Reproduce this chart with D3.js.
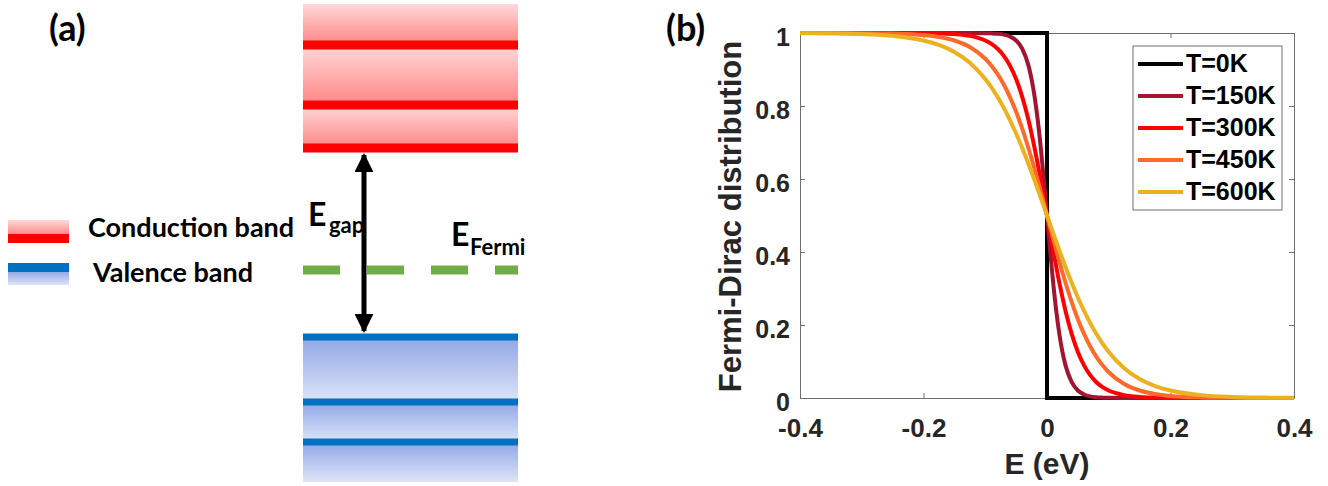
<!DOCTYPE html>
<html>
<head>
<meta charset="utf-8">
<script src="https://cdn.jsdelivr.net/npm/d3@7"></script>
<style>
  body { margin: 0; background: #fff; }
  svg { display: block; }
</style>
</head>
<body>
<svg id="fig" width="1328" height="486"></svg>
<script>
// ---------- Panel (a): band diagram (energies relative to the Fermi level, arb. units) ----------
const conductionLevels = [122, 165, 225];
const conductionTop = 266;
const valenceLevels = [-67, -132, -172];
const valenceBottom = -212;
const fermiLevel = 0;

// ---------- Panel (b): Fermi-Dirac occupation ----------
const energy = [-0.4, -0.35, -0.3, -0.25, -0.2, -0.175, -0.15, -0.125, -0.1, -0.09, -0.08, -0.07, -0.06, -0.05, -0.04, -0.03, -0.025, -0.02, -0.015, -0.01, -0.005,
  0,
  0.005, 0.01, 0.015, 0.02, 0.025, 0.03, 0.04, 0.05, 0.06, 0.07, 0.08, 0.09, 0.1, 0.125, 0.15, 0.175, 0.2, 0.25, 0.3, 0.35, 0.4];

const f150 = [1, 1, 1, 1, 1, 1, 1, 0.9999, 0.9996, 0.9990, 0.9979, 0.9956, 0.9904, 0.9795, 0.9567, 0.9106, 0.8737, 0.8245, 0.7614, 0.6843, 0.5955,
  0.5,
  0.4045, 0.3157, 0.2386, 0.1755, 0.1263, 0.0894, 0.0433, 0.0205, 0.0096, 0.0044, 0.0021, 0.0010, 0.0004, 0.0001, 0, 0, 0, 0, 0, 0, 0];

const f300 = [1, 1, 1, 0.9999, 0.9996, 0.9988, 0.9970, 0.9921, 0.9795, 0.9701, 0.9567, 0.9375, 0.9106, 0.8737, 0.8245, 0.7614, 0.7245, 0.6843, 0.6411, 0.5955, 0.5482,
  0.5,
  0.4518, 0.4045, 0.3589, 0.3157, 0.2755, 0.2386, 0.1755, 0.1263, 0.0894, 0.0625, 0.0433, 0.0299, 0.0205, 0.0079, 0.0030, 0.0012, 0.0004, 0.0001, 0, 0, 0];

const f450 = [1, 0.9999, 0.9996, 0.9984, 0.9943, 0.9891, 0.9795, 0.9617, 0.9295, 0.9106, 0.8873, 0.8588, 0.8245, 0.7840, 0.7372, 0.6843, 0.6558, 0.6262, 0.5955, 0.5641, 0.5322,
  0.5,
  0.4678, 0.4359, 0.4045, 0.3738, 0.3442, 0.3157, 0.2628, 0.2160, 0.1755, 0.1412, 0.1127, 0.0894, 0.0705, 0.0383, 0.0205, 0.0109, 0.0057, 0.0016, 0.0004, 0.0001, 0];

const f600 = [0.9996, 0.9988, 0.9970, 0.9921, 0.9795, 0.9672, 0.9479, 0.9182, 0.8737, 0.8508, 0.8245, 0.7948, 0.7614, 0.7245, 0.6843, 0.6411, 0.6186, 0.5955, 0.5720, 0.5482, 0.5242,
  0.5,
  0.4758, 0.4518, 0.4280, 0.4045, 0.3814, 0.3589, 0.3157, 0.2755, 0.2386, 0.2052, 0.1755, 0.1492, 0.1263, 0.0818, 0.0521, 0.0328, 0.0205, 0.0079, 0.0030, 0.0012, 0.0004];

// T = 0 K is a step at the Fermi energy
const energy0 = [-0.4, 0, 0, 0.4];
const f0 = [1, 1, 0, 0];

const seriesNames = ["T=0K", "T=150K", "T=300K", "T=450K", "T=600K"];
const seriesColors = ["#000000", "#A2142F", "#FF0000", "#FF6A2A", "#EDB120"];

const xTicks = [-0.4, -0.2, 0, 0.2, 0.4];
const xTickLabels = ["-0.4", "-0.2", "0", "0.2", "0.4"];
const yTicks = [0, 0.2, 0.4, 0.6, 0.8, 1];
const yTickLabels = ["0", "0.2", "0.4", "0.6", "0.8", "1"];

const svg = d3.select("#fig");
const defs = svg.append("defs");

// gradients for the band fills
function vGrad(id, top, bottom) {
  const g = defs.append("linearGradient").attr("id", id)
    .attr("x1", 0).attr("y1", 0).attr("x2", 0).attr("y2", 1);
  g.append("stop").attr("offset", "0%").attr("stop-color", top);
  g.append("stop").attr("offset", "100%").attr("stop-color", bottom);
}
vGrad("cbGrad", "#FFD9D9", "#FF8484");
vGrad("vbGrad", "#8FA6E6", "#DEE5F8");

// ================= Panel (a) =================
const pa = svg.append("g").attr("class", "panel-a");
const bandFont = "Lato, 'Open Sans', sans-serif";
const yA = d3.scaleLinear().domain([valenceBottom, conductionTop]).range([482, 4]);
const bandX0 = 303, bandX1 = 518;

// conduction band: each slab between a level and the next one above fades upwards
const cbEdges = conductionLevels.concat([conductionTop]);
pa.selectAll("rect.cb").data(d3.pairs(cbEdges)).join("rect")
  .attr("class", "cb")
  .attr("x", bandX0).attr("width", bandX1 - bandX0)
  .attr("y", d => yA(d[1])).attr("height", d => yA(d[0]) - yA(d[1]))
  .attr("fill", "url(#cbGrad)");
pa.selectAll("line.cbl").data(conductionLevels).join("line")
  .attr("class", "cbl")
  .attr("x1", bandX0).attr("x2", bandX1)
  .attr("y1", d => yA(d)).attr("y2", d => yA(d))
  .attr("stroke", "#FF0000").attr("stroke-width", 9);

// valence band: each slab below a level fades downwards
const vbEdges = valenceLevels.concat([valenceBottom]);
pa.selectAll("rect.vb").data(d3.pairs(vbEdges)).join("rect")
  .attr("class", "vb")
  .attr("x", bandX0).attr("width", bandX1 - bandX0)
  .attr("y", d => yA(d[0])).attr("height", d => yA(d[1]) - yA(d[0]))
  .attr("fill", "url(#vbGrad)");
pa.selectAll("line.vbl").data(valenceLevels).join("line")
  .attr("class", "vbl")
  .attr("x1", bandX0).attr("x2", bandX1)
  .attr("y1", d => yA(d)).attr("y2", d => yA(d))
  .attr("stroke", "#0070C0").attr("stroke-width", 7);

// Fermi level
pa.append("line")
  .attr("x1", bandX0).attr("x2", bandX1)
  .attr("y1", yA(fermiLevel)).attr("y2", yA(fermiLevel))
  .attr("stroke", "#70AD47").attr("stroke-width", 9)
  .attr("stroke-dasharray", "37,27");

// band gap double arrow
defs.append("marker").attr("id", "arrowHead")
  .attr("viewBox", "0 0 10 10").attr("refX", 9).attr("refY", 5)
  .attr("markerWidth", 3.8).attr("markerHeight", 3.8)
  .attr("markerUnits", "strokeWidth")
  .attr("orient", "auto-start-reverse")
  .append("path").attr("d", "M0,0 L10,5 L0,10 Z").attr("fill", "#000");
const arrowX = 364;
const cbEdgeY = yA(d3.min(conductionLevels)) + 5;
const vbEdgeY = yA(d3.max(valenceLevels)) - 4;
pa.append("line")
  .attr("x1", arrowX).attr("x2", arrowX)
  .attr("y1", cbEdgeY + 2).attr("y2", vbEdgeY - 2)
  .attr("stroke", "#000").attr("stroke-width", 5)
  .attr("marker-start", "url(#arrowHead)")
  .attr("marker-end", "url(#arrowHead)");

// labels
pa.append("text").attr("x", 49).attr("y", 41)
  .attr("font-family", bandFont).attr("font-weight", 700).attr("font-size", 36)
  .text("(a)");
pa.append("text").attr("x", 308).attr("y", 226)
  .attr("font-family", bandFont).attr("font-weight", 700).attr("font-size", 32).text("E");
pa.append("text").attr("x", 329).attr("y", 233)
  .attr("font-family", bandFont).attr("font-weight", 700).attr("font-size", 22).text("gap");
pa.append("text").attr("x", 451).attr("y", 246)
  .attr("font-family", bandFont).attr("font-weight", 700).attr("font-size", 32).text("E");
pa.append("text").attr("x", 470).attr("y", 255)
  .attr("font-family", bandFont).attr("font-weight", 700).attr("font-size", 22).text("Fermi");

// legend of panel (a)
pa.append("rect").attr("x", 8).attr("y", 220).attr("width", 61).attr("height", 15).attr("fill", "url(#cbGrad)");
pa.append("rect").attr("x", 8).attr("y", 234).attr("width", 61).attr("height", 9).attr("fill", "#FF0000");
pa.append("rect").attr("x", 8).attr("y", 271).attr("width", 61).attr("height", 14).attr("fill", "url(#vbGrad)");
pa.append("rect").attr("x", 8).attr("y", 263).attr("width", 61).attr("height", 9).attr("fill", "#0070C0");
pa.append("text").attr("x", 88).attr("y", 237)
  .attr("font-family", bandFont).attr("font-weight", 700).attr("font-size", 27).text("Conduction band");
pa.append("text").attr("x", 93).attr("y", 282)
  .attr("font-family", bandFont).attr("font-weight", 700).attr("font-size", 27).text("Valence band");

// ================= Panel (b) =================
const pb = svg.append("g").attr("class", "panel-b");
const axFont = "Arial, 'Liberation Sans', sans-serif";
const textColor = "#262626";
const axisColor = "#6e6e6e";
const x = d3.scaleLinear().domain([-0.4, 0.4]).range([800, 1294]);
const y = d3.scaleLinear().domain([0, 1]).range([398, 33]);

function styleAxis(g, size) {
  g.select(".domain").attr("stroke", axisColor).attr("stroke-width", 1);
  g.selectAll(".tick line").attr("stroke", axisColor).attr("stroke-width", 1);
  g.selectAll("text").attr("fill", textColor)
    .attr("font-family", axFont).attr("font-weight", 700).attr("font-size", size || 26);
}

pb.append("g").attr("transform", `translate(0,${y(0)})`)
  .call(d3.axisBottom(x).tickValues(xTicks).tickFormat((d, i) => xTickLabels[i])
    .tickSizeInner(-5).tickSizeOuter(0).tickPadding(21))
  .call(styleAxis, 26);
pb.append("g").attr("transform", `translate(0,${y(1)})`)
  .call(d3.axisTop(x).tickValues(xTicks).tickFormat("").tickSizeInner(-5).tickSizeOuter(0))
  .call(styleAxis);
const yAxisG = pb.append("g").attr("transform", `translate(${x(-0.4)},0)`)
  .call(d3.axisLeft(y).tickValues(yTicks).tickFormat((d, i) => yTickLabels[i])
    .tickSizeInner(-5).tickSizeOuter(0).tickPadding(10))
  .call(styleAxis, 25);
yAxisG.selectAll(".tick text").attr("y", 4);
pb.append("g").attr("transform", `translate(${x(0.4)},0)`)
  .call(d3.axisRight(y).tickValues(yTicks).tickFormat("").tickSizeInner(-5).tickSizeOuter(0))
  .call(styleAxis);

// axis titles
pb.append("text").attr("x", x(0)).attr("y", 474).attr("text-anchor", "middle")
  .attr("font-family", axFont).attr("font-weight", 700).attr("font-size", 30)
  .attr("fill", textColor).text("E (eV)");
pb.append("text").attr("transform", `translate(741,${(y(0) + y(1)) / 2 + 1}) rotate(-90)`)
  .attr("text-anchor", "middle")
  .attr("font-family", axFont).attr("font-weight", 700).attr("font-size", 31)
  .attr("fill", textColor).text("Fermi-Dirac distribution");
pb.append("text").attr("x", 666).attr("y", 41)
  .attr("font-family", bandFont).attr("font-weight", 700).attr("font-size", 36).text("(b)");

// curves
const series = [
  { e: energy0, f: f0, curve: d3.curveLinear },
  { e: energy, f: f150, curve: d3.curveMonotoneX },
  { e: energy, f: f300, curve: d3.curveMonotoneX },
  { e: energy, f: f450, curve: d3.curveMonotoneX },
  { e: energy, f: f600, curve: d3.curveMonotoneX }
];
series.forEach((s, i) => {
  const pts = s.e.map((e, j) => [e, s.f[j]]);
  pb.append("path")
    .attr("d", d3.line().x(d => x(d[0])).y(d => y(d[1])).curve(s.curve)(pts))
    .attr("fill", "none").attr("stroke", seriesColors[i])
    .attr("stroke-width", 4).attr("stroke-linejoin", "miter");
});

// legend
const lg = pb.append("g").attr("class", "legend");
lg.append("rect").attr("x", 1133).attr("y", 46).attr("width", 149).attr("height", 164)
  .attr("fill", "#fff").attr("stroke", axisColor).attr("stroke-width", 1);
const rowY = d3.scalePoint().domain(seriesNames).range([64, 192]);
seriesNames.forEach((name, i) => {
  lg.append("line").attr("x1", 1138).attr("x2", 1183)
    .attr("y1", rowY(name)).attr("y2", rowY(name))
    .attr("stroke", seriesColors[i]).attr("stroke-width", 4);
  lg.append("text").attr("x", 1186).attr("y", rowY(name) + 8)
    .attr("font-family", axFont).attr("font-weight", 700).attr("font-size", 25)
    .attr("fill", "#000").text(name);
});
</script>
</body>
</html>
